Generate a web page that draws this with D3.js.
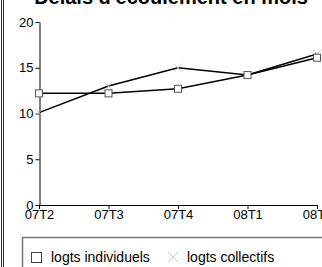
<!DOCTYPE html>
<html>
<head>
<meta charset="utf-8">
<script src="https://cdn.jsdelivr.net/npm/d3@7"></script>
<style>
  body { margin: 0; background: #fff; }
  svg { display: block; font-family: Arial, "Liberation Sans", sans-serif; }
</style>
</head>
<body>
<svg id="chart" width="322" height="267"></svg>
<script>
const quarters = ['07T2', '07T3', '07T4', '08T1', '08T2']
const individuels = [12.2, 12.2, 12.7, 14.2, 16.1]
const collectifs = [10.1, 13.0, 15.0, 14.2, 16.5]
const yTicks = [0, 5, 10, 15, 20]
const seriesNames = ['logts individuels', 'logts collectifs']

const svg = d3.select('#chart')

// frame lines at the left
svg.append('line').attr('x1', 1.5).attr('x2', 1.5).attr('y1', 0).attr('y2', 267)
  .attr('stroke', '#333').attr('stroke-width', 1)
svg.append('line').attr('x1', 3.5).attr('x2', 3.5).attr('y1', 0).attr('y2', 267)
  .attr('stroke', '#333').attr('stroke-width', 1)

// title (cut off at the top)
svg.append('text')
  .attr('x', 171).attr('y', 3.5)
  .attr('text-anchor', 'middle')
  .attr('font-weight', 'bold')
  .attr('font-size', 20)
  .text("Délais d'écoulement en mois")

const xScale = d3.scalePoint()
  .domain(quarters)
  .range([39, 317])

const yScale = d3.scaleLinear()
  .domain([0, 20])
  .range([205, 22])

const xAxisG = svg.append('g')
  .attr('transform', 'translate(0,205)')
  .call(d3.axisBottom(xScale).tickSize(4).tickSizeOuter(0).tickPadding(1))
xAxisG.selectAll('.domain').attr('stroke', '#000')
xAxisG.selectAll('text').attr('font-size', 13).attr('fill', '#000')
  .attr('font-family', 'Arial, "Liberation Sans", sans-serif')

const yAxisG = svg.append('g')
  .attr('transform', 'translate(39.5,0)')
  .call(d3.axisLeft(yScale).tickValues(yTicks).tickSize(4).tickSizeOuter(0).tickPadding(2))
yAxisG.selectAll('text').attr('font-size', 13).attr('fill', '#000')
  .attr('font-family', 'Arial, "Liberation Sans", sans-serif')

const line = d3.line()
  .x((d, i) => xScale(quarters[i]))
  .y(d => yScale(d))

svg.append('path').datum(collectifs)
  .attr('d', line)
  .attr('fill', 'none')
  .attr('stroke', '#000')
  .attr('stroke-width', 1.5)

svg.append('path').datum(individuels)
  .attr('d', line)
  .attr('fill', 'none')
  .attr('stroke', '#000')
  .attr('stroke-width', 1.5)

// cross markers
const crossG = svg.append('g')
crossG.selectAll('path').data(collectifs)
  .enter().append('path')
  .attr('transform', (d, i) => `translate(${xScale(quarters[i])},${yScale(d)})`)
  .attr('d', 'M-4,-4L4,4M-4,4L4,-4')
  .attr('stroke', '#c8c8c8')
  .attr('stroke-width', 1)

// square markers
svg.selectAll('rect.sq').data(individuels)
  .enter().append('rect')
  .attr('class', 'sq')
  .attr('x', (d, i) => xScale(quarters[i]) - 3.5)
  .attr('y', d => yScale(d) - 3.5)
  .attr('width', 7)
  .attr('height', 7)
  .attr('fill', '#fff')
  .attr('stroke', '#555')
  .attr('stroke-width', 1)

// legend
svg.append('rect')
  .attr('x', 22.5).attr('y', 237.5)
  .attr('width', 320).attr('height', 60)
  .attr('fill', 'none')
  .attr('stroke', '#777')
  .attr('stroke-width', 1.5)

svg.append('rect')
  .attr('x', 31.5).attr('y', 252.5)
  .attr('width', 10).attr('height', 10)
  .attr('fill', '#fff')
  .attr('stroke', '#444')
svg.append('text')
  .attr('x', 51).attr('y', 262)
  .attr('font-size', 14)
  .text(seriesNames[0])

svg.append('path')
  .attr('transform', 'translate(173,257)')
  .attr('d', 'M-5,-5L5,5M-5,5L5,-5')
  .attr('stroke', '#c8c8c8')
svg.append('text')
  .attr('x', 187).attr('y', 262)
  .attr('font-size', 14)
  .text(seriesNames[1])
</script>
</body>
</html>
